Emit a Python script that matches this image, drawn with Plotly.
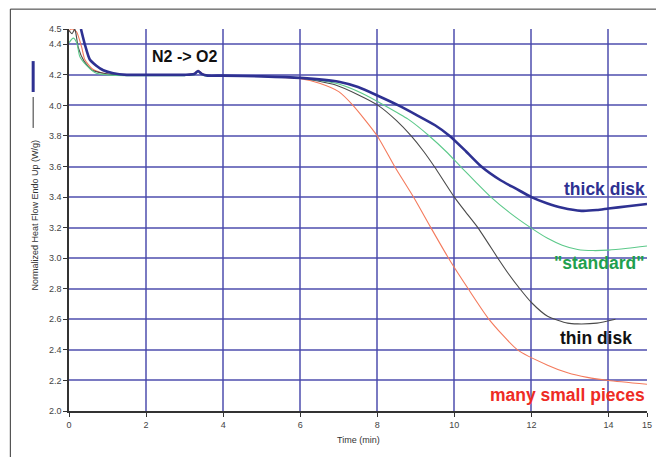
import plotly.graph_objects as go

# ---- data ----
thick_t = [0.31, 0.41, 0.54, 0.71, 0.89, 1.15, 1.5, 2.0, 3.0, 3.25, 3.35, 3.45, 3.6, 4.0, 5.0, 6.0,
           7.0, 7.5, 8.0, 8.55, 9.0, 9.5, 9.88, 10.3, 10.7, 11.2, 11.6, 12.0, 12.4, 12.8, 13.3,
           13.7, 14.0, 14.5, 15.0]
thick_v = [4.5, 4.4, 4.3, 4.26, 4.23, 4.21, 4.2, 4.2, 4.2, 4.205, 4.225, 4.205, 4.195, 4.195, 4.19, 4.18,
           4.155, 4.12, 4.065, 4.0, 3.94, 3.87, 3.80, 3.70, 3.60, 3.51, 3.455, 3.40, 3.36, 3.33, 3.31,
           3.315, 3.325, 3.34, 3.355]

std_t = [0, 0.11, 0.2, 0.28, 0.46, 0.71, 1.0, 1.5, 2.0, 3.0, 3.25, 3.35, 3.45, 3.6, 4.0, 5.0, 6.0,
         7.0, 7.6, 8.19, 8.8, 9.35, 9.8, 10.16, 10.55, 10.95, 11.45, 11.98, 12.42, 12.8, 13.2, 13.6,
         14.0, 14.5, 15.0]
std_v = [4.41, 4.44, 4.41, 4.32, 4.26, 4.21, 4.2, 4.195, 4.195, 4.195, 4.2, 4.22, 4.2, 4.19, 4.19, 4.19,
         4.18, 4.14, 4.08, 4.0, 3.91, 3.80, 3.695, 3.60, 3.50, 3.40, 3.295, 3.20, 3.13, 3.085, 3.057,
         3.05, 3.053, 3.065, 3.08]

thin_t = [0, 0.08, 0.15, 0.18, 0.24, 0.39, 0.6, 0.9, 1.2, 1.5, 2.0, 3.0, 3.25, 3.35, 3.45, 3.6, 4.0,
          5.0, 6.0, 6.9, 7.5, 8.02, 8.5, 8.88, 9.2, 9.48, 10.0, 10.3, 10.61, 11.13, 11.4, 11.7, 12.0,
          12.42, 12.94, 13.2, 13.7, 14.18]
thin_v = [4.49, 4.47, 4.5, 4.47, 4.38, 4.29, 4.23, 4.21, 4.2, 4.2, 4.2, 4.2, 4.205, 4.225, 4.205, 4.195,
          4.195, 4.19, 4.18, 4.135, 4.07, 4.0, 3.9, 3.8, 3.7, 3.6, 3.4, 3.3, 3.2, 3.0, 2.9, 2.8, 2.71,
          2.62, 2.575, 2.57, 2.575, 2.60]

pieces_t = [0, 0.08, 0.15, 0.2, 0.33, 0.41, 0.6, 0.89, 1.2, 1.5, 2.0, 3.0, 3.25, 3.35, 3.45, 3.6, 4.0,
            5.0, 6.0, 6.5, 7.0, 7.37, 8.0, 8.45, 8.94, 9.39, 9.85, 10.36, 10.9, 11.64, 12.42, 12.94,
            13.45, 14.0, 15.0]
pieces_v = [4.49, 4.5, 4.49, 4.48, 4.38, 4.3, 4.24, 4.21, 4.2, 4.2, 4.2, 4.2, 4.21, 4.23, 4.21, 4.195,
            4.195, 4.19, 4.175, 4.145, 4.09, 4.0, 3.8, 3.6, 3.4, 3.2, 3.0, 2.8, 2.6, 2.4, 2.30, 2.25,
            2.22, 2.20, 2.175]

x_ticks = [0, 2, 4, 6, 8, 10, 12, 14, 15]
y_ticks = [2.0, 2.2, 2.4, 2.6, 2.8, 3.0, 3.2, 3.4, 3.6, 3.8, 4.0, 4.2, 4.4, 4.5]

labels = ["thick disk", "\"standard\"", "thin disk", "many small pieces"]
label_x = [15, 15, 14.67, 15]
label_y = [3.45, 2.97, 2.48, 2.105]

# ---- styles ----
NAVY = "#2E3192"
GREEN_LINE = "#5CC98A"
GREEN_TXT = "#1FA04E"
BLACK_LINE = "#4A4A4A"
RED_LINE = "#F47A5C"
RED_TXT = "#EE2B24"
GRID = "rgba(70,70,170,0.72)"
FONT = "Liberation Sans, Arial"

fig = go.Figure()
series = [
    (pieces_t, pieces_v, RED_LINE, 1.1),
    (thin_t, thin_v, BLACK_LINE, 1.1),
    (std_t, std_v, GREEN_LINE, 1.1),
    (thick_t, thick_v, NAVY, 2.6),
]
for t, v, c, w in series:
    fig.add_trace(go.Scatter(x=t, y=v, mode="lines",
                             line=dict(color=c, width=w, shape="spline", smoothing=0.6),
                             showlegend=False, hoverinfo="skip"))

label_colors = [NAVY, GREEN_TXT, "#111111", RED_TXT]
for txt, lx, ly, col in zip(labels, label_x, label_y, label_colors):
    fig.add_annotation(x=lx, y=ly, xref="x", yref="y", text=txt, showarrow=False,
                       xanchor="right", yanchor="middle",
                       font=dict(family=FONT, size=17.5, color=col, weight="bold"))

fig.add_annotation(x=3.0, y=4.32, xref="x", yref="y", text="N2 -> O2", showarrow=False,
                   xanchor="center", yanchor="middle",
                   font=dict(family=FONT, size=16, color="#111111", weight="bold"))

# axis titles as annotations
fig.add_annotation(x=-0.058, y=0.513, xref="paper", yref="paper",
                   text="Normalized Heat Flow Endo Up (W/g)", textangle=-90, showarrow=False,
                   xanchor="center", yanchor="middle",
                   font=dict(family=FONT, size=9, color="#333333"))
fig.add_annotation(x=0.5, y=-0.076, xref="paper", yref="paper", text="Time (min)",
                   showarrow=False, xanchor="center", yanchor="middle",
                   font=dict(family=FONT, size=9, color="#333333"))

# legend-like line keys beside the y title
fig.add_shape(type="line", xref="paper", yref="paper", x0=-0.062, x1=-0.062, y0=0.741, y1=0.822,
              line=dict(color="#333333", width=1))
fig.add_shape(type="line", xref="paper", yref="paper", x0=-0.062, x1=-0.062, y0=0.835, y1=0.916,
              line=dict(color=NAVY, width=3))

# outer frame (top and left edges)
fig.add_shape(type="line", xref="paper", yref="paper", x0=-0.1015, x1=1.05, y0=1.052, y1=1.052,
              line=dict(color="#333333", width=1))
fig.add_shape(type="line", xref="paper", yref="paper", x0=-0.1015, x1=-0.1015, y0=1.052, y1=-0.15,
              line=dict(color="#333333", width=1))

fig.update_xaxes(range=[0, 15], tickvals=x_ticks, ticktext=[str(v) for v in x_ticks],
                 showgrid=True, gridcolor=GRID, gridwidth=1.6,
                 showline=True, linecolor="#333333", linewidth=1.5,
                 ticks="outside", ticklen=4, tickcolor="#333333",
                 tickfont=dict(family="Liberation Sans Narrow, Liberation Sans", size=9, color="#444444"),
                 zeroline=False)
fig.update_yaxes(range=[2.0, 4.5], tickvals=y_ticks, ticktext=["%.1f" % v for v in y_ticks],
                 showgrid=True, gridcolor=GRID, gridwidth=1.6,
                 showline=True, linecolor="#333333", linewidth=1.5,
                 ticks="outside", ticklen=4, tickcolor="#333333",
                 tickfont=dict(family="Liberation Sans Narrow, Liberation Sans", size=9, color="#444444"),
                 zeroline=False)

fig.update_layout(width=656, height=449,
                  margin=dict(l=61, r=14, t=21, b=46),
                  paper_bgcolor="white", plot_bgcolor="white",
                  showlegend=False)

fig.write_html("out.html")
